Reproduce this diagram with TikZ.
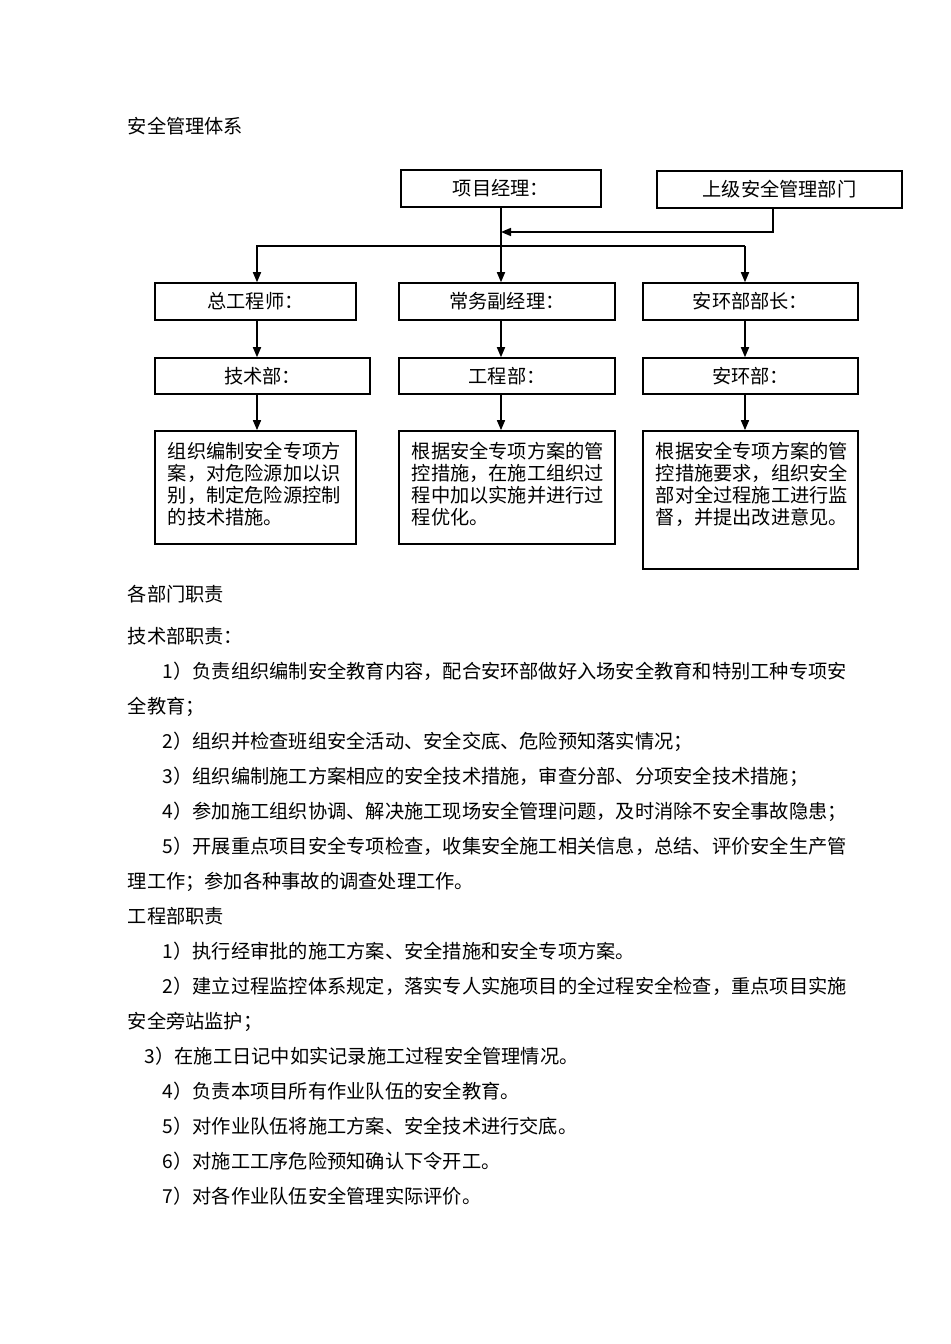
\documentclass[tikz,border=0pt]{standalone}
\usepackage{fontspec}
\setmainfont{Noto Sans CJK SC}
\usetikzlibrary{arrows.meta}

\tikzset{
  box/.style={draw,inner sep=0,text height=0.164cm,text depth=0.02cm},
  descbox/.style={draw,inner sep=0},
  desctext/.style={inner sep=0,align=left,anchor=base west,
    font={\fontsize{5.47pt}{0.22cm}\selectfont}},
  txtline/.style={inner sep=0,anchor=west,text height=0.164cm,text depth=0.02cm},
  arr/.style={-{Triangle[length=0.1cm,width=0.08cm]}}
}

\begin{document}
\begin{tikzpicture}[x=0.01cm,y=-0.01cm,line width=0.45pt,
  font=\fontsize{5.47pt}{6.2pt}\selectfont]
  \useasboundingbox (0,0) rectangle (950,1344);
  \node[txtline] (title) at (127,126) {安全管理体系};
  % boxes
  \node[box,minimum width=2.00cm,minimum height=0.37cm] (pm) at (501,188.5) {项目经理：};
  \node[box,minimum width=2.45cm,minimum height=0.37cm] (sup) at (779.5,189.5) {上级安全管理部门};
  \node[box,minimum width=2.01cm,minimum height=0.37cm] (zgc) at (255.5,301.5) {总工程师：};
  \node[box,minimum width=2.16cm,minimum height=0.37cm] (cwf) at (507,301.5) {常务副经理：};
  \node[box,minimum width=2.15cm,minimum height=0.37cm] (ahbz) at (750.5,301.5) {安环部部长：};
  \node[box,minimum width=2.15cm,minimum height=0.36cm] (jsb) at (262.5,376) {技术部：};
  \node[box,minimum width=2.16cm,minimum height=0.36cm] (gcb) at (507,376) {工程部：};
  \node[box,minimum width=2.15cm,minimum height=0.36cm] (ahb) at (750.5,376) {安环部：};
  \node[descbox,minimum width=2.01cm,minimum height=1.13cm] (d1) at (255.5,487.5) {};
  \node[descbox,minimum width=2.16cm,minimum height=1.13cm] (d2) at (507,487.5) {};
  \node[descbox,minimum width=2.15cm,minimum height=1.38cm] (d3) at (750.5,500) {};
  % last baseline of each text block
  \node[desctext] (d1t) at (167,524.2) {组织编制安全专项方\\案，对危险源加以识\\别，制定危险源控制\\的技术措施。};
  \node[desctext] (d2t) at (411,524.2) {根据安全专项方案的管\\控措施，在施工组织过\\程中加以实施并进行过\\程优化。};
  \node[desctext] (d3t) at (655,524.2) {根据安全专项方案的管\\控措施要求，组织安全\\部对全过程施工进行监\\督，并提出改进意见。};
  % connectors
  \coordinate (c1) at (257,0);
  \coordinate (c2) at (501,0);
  \coordinate (c3) at (745,0);
  \coordinate (c4) at (773,0);
  \coordinate (join) at (501,232);
  \coordinate (fork) at (501,246);
  \draw[arr] (pm.south -| c2) -- (cwf.north -| c2);
  \draw[arr] (sup.south -| c4) |- (join);
  \draw (fork) -- (fork -| c3);
  \draw[arr] (fork) -| (zgc.north -| c1);
  \draw[arr] (fork -| c3) -- (ahbz.north -| c3);
  \draw[arr] (zgc.south -| c1) -- (jsb.north -| c1);
  \draw[arr] (cwf.south -| c2) -- (gcb.north -| c2);
  \draw[arr] (ahbz.south -| c3) -- (ahb.north -| c3);
  \draw[arr] (jsb.south -| c1) -- (d1.north -| c1);
  \draw[arr] (gcb.south -| c2) -- (d2.north -| c2);
  \draw[arr] (ahb.south -| c3) -- (d3.north -| c3);
  % duties
  \node[txtline] (l01) at (127,594) {各部门职责};
  \node[txtline] (l02) at (127,636) {技术部职责：};
  \node[txtline] (l03) at (162,671) {1）负责组织编制安全教育内容，配合安环部做好入场安全教育和特别工种专项安};
  \node[txtline] (l04) at (127,706) {全教育；};
  \node[txtline] (l05) at (162,741) {2）组织并检查班组安全活动、安全交底、危险预知落实情况；};
  \node[txtline] (l06) at (162,776) {3）组织编制施工方案相应的安全技术措施，审查分部、分项安全技术措施；};
  \node[txtline] (l07) at (162,811) {4）参加施工组织协调、解决施工现场安全管理问题，及时消除不安全事故隐患；};
  \node[txtline] (l08) at (162,846) {5）开展重点项目安全专项检查，收集安全施工相关信息，总结、评价安全生产管};
  \node[txtline] (l09) at (127,881) {理工作；参加各种事故的调查处理工作。};
  \node[txtline] (l10) at (127,916) {工程部职责};
  \node[txtline] (l11) at (162,951) {1）执行经审批的施工方案、安全措施和安全专项方案。};
  \node[txtline] (l12) at (162,986) {2）建立过程监控体系规定，落实专人实施项目的全过程安全检查，重点项目实施};
  \node[txtline] (l13) at (127,1021) {安全旁站监护；};
  \node[txtline] (l14) at (144,1056) {3）在施工日记中如实记录施工过程安全管理情况。};
  \node[txtline] (l15) at (162,1091) {4）负责本项目所有作业队伍的安全教育。};
  \node[txtline] (l16) at (162,1126) {5）对作业队伍将施工方案、安全技术进行交底。};
  \node[txtline] (l17) at (162,1161) {6）对施工工序危险预知确认下令开工。};
  \node[txtline] (l18) at (162,1196) {7）对各作业队伍安全管理实际评价。};
\end{tikzpicture}
\end{document}
